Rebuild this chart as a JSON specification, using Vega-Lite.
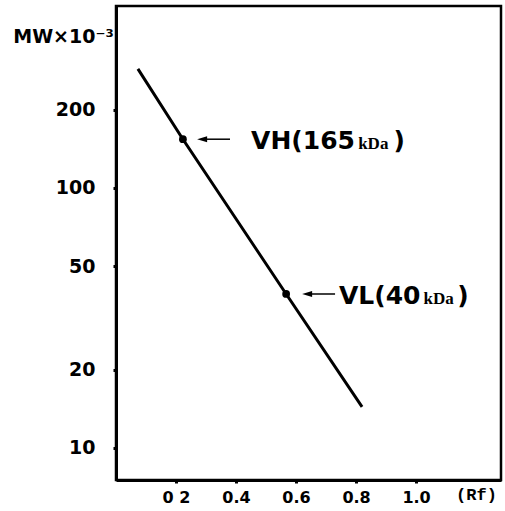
{
  "$schema": "https://vega.github.io/schema/vega-lite/v6.json",
  "width": 385,
  "height": 474,
  "autosize": "none",
  "padding": {"left": 116, "top": 6, "right": 4, "bottom": 31},
  "background": "white",
  "config": {
    "view": {"stroke": "black", "strokeWidth": 2.5},
    "axis": {
      "grid": false,
      "domainColor": "black",
      "domainWidth": 3,
      "labelColor": "black",
      "labelFont": "DejaVu Sans",
      "labelFontWeight": "bold",
      "titleColor": "black"
    }
  },
  "datasets": {
    "fit": [
      {"rf": 0.073, "mw": 287},
      {"rf": 0.223, "mw": 154},
      {"rf": 0.567, "mw": 39.1},
      {"rf": 0.82, "mw": 14.4}
    ],
    "bands": [
      {"band": "VH", "rf": 0.223, "mw": 154},
      {"band": "VL", "rf": 0.567, "mw": 39.1}
    ],
    "arrows": [
      {"band": "VH", "rf": 0.287, "rf2": 0.38, "mw": 154},
      {"band": "VL", "rf": 0.637, "rf2": 0.73, "mw": 39.1}
    ],
    "sans": [
      {"t": "VH(165", "rf": 0.45, "mw": 154},
      {"t": ")", "rf": 0.925, "mw": 154},
      {"t": "VL(40", "rf": 0.743, "mw": 39.1},
      {"t": ")", "rf": 1.137, "mw": 39.1}
    ],
    "serif": [
      {"t": "kDa", "rf": 0.807, "mw": 154},
      {"t": "kDa", "rf": 1.025, "mw": 39.1}
    ]
  },
  "layer": [
    {
      "data": {"name": "fit"},
      "mark": {"type": "line", "color": "black", "strokeWidth": 3},
      "encoding": {
        "x": {
          "field": "rf", "type": "quantitative",
          "scale": {"domain": [0, 1.283], "nice": false, "zero": false},
          "axis": {
            "values": [0.2, 0.4, 0.6, 0.8, 1.0],
            "labelExpr": "datum.value == 0.2 ? '0 2' : format(datum.value, '.1f')",
            "ticks": true,
            "tickSize": 3,
            "tickWidth": 3,
            "tickColor": "black",
            "labelFontSize": 16,
            "labelPadding": 6,
            "title": "(Rf)",
            "titleFont": "Liberation Mono",
            "titleFontWeight": "bold",
            "titleFontSize": 17,
            "titleX": 360,
            "titleY": 14,
            "titleAlign": "center",
            "titleBaseline": "middle"
          }
        },
        "y": {
          "field": "mw", "type": "quantitative",
          "scale": {"type": "log", "domain": [7.53, 501], "nice": false, "zero": false},
          "axis": {
            "values": [10, 20, 50, 100, 200],
            "ticks": true,
            "tickSize": 3,
            "tickWidth": 3,
            "tickColor": "black",
            "labelFontSize": 19,
            "labelPadding": 18,
            "title": "MW×10⁻³",
            "titleAngle": 0,
            "titleFont": "DejaVu Sans",
            "titleFontWeight": "bold",
            "titleFontSize": 19,
            "titleX": -53,
            "titleY": 30,
            "titleAlign": "center",
            "titleBaseline": "middle"
          }
        }
      }
    },
    {
      "data": {"name": "bands"},
      "mark": {"type": "circle", "color": "black", "opacity": 1, "size": 60},
      "encoding": {
        "x": {"field": "rf", "type": "quantitative"},
        "y": {"field": "mw", "type": "quantitative"}
      }
    },
    {
      "data": {"name": "arrows"},
      "mark": {"type": "rule", "color": "black", "strokeWidth": 1.5},
      "encoding": {
        "x": {"field": "rf", "type": "quantitative"},
        "x2": {"field": "rf2"},
        "y": {"field": "mw", "type": "quantitative"}
      }
    },
    {
      "data": {"name": "arrows"},
      "mark": {"type": "point", "shape": "M -1 0 L 1 -0.6 L 1 0.6 Z", "filled": true, "color": "black", "opacity": 1, "size": 100},
      "encoding": {
        "x": {"field": "rf", "type": "quantitative"},
        "y": {"field": "mw", "type": "quantitative"}
      }
    },
    {
      "data": {"name": "sans"},
      "mark": {"type": "text", "font": "DejaVu Sans", "fontWeight": "bold", "fontSize": 25, "align": "left", "baseline": "alphabetic", "dy": 10, "color": "black"},
      "encoding": {
        "x": {"field": "rf", "type": "quantitative"},
        "y": {"field": "mw", "type": "quantitative"},
        "text": {"field": "t"}
      }
    },
    {
      "data": {"name": "serif"},
      "mark": {"type": "text", "font": "Liberation Serif", "fontWeight": "bold", "fontSize": 17, "align": "left", "baseline": "alphabetic", "dy": 10, "color": "black"},
      "encoding": {
        "x": {"field": "rf", "type": "quantitative"},
        "y": {"field": "mw", "type": "quantitative"},
        "text": {"field": "t"}
      }
    }
  ]
}
